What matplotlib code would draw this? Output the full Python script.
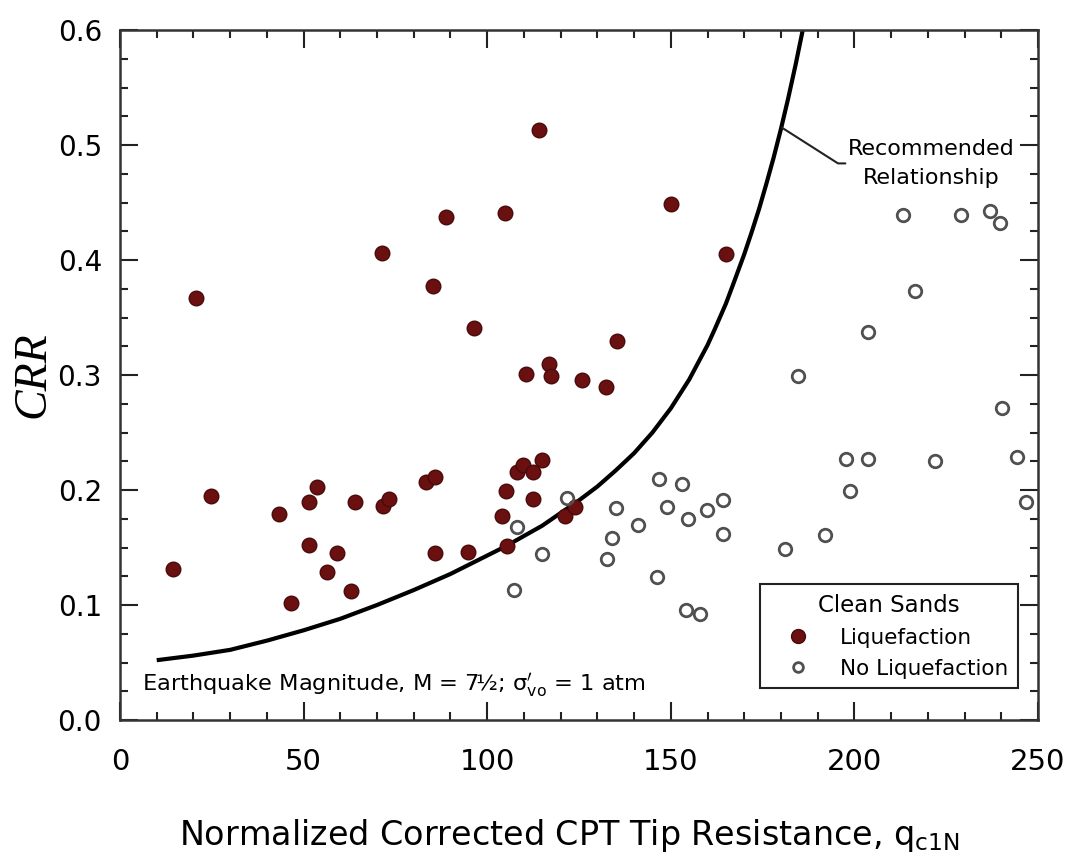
import matplotlib
matplotlib.use("Agg")
import matplotlib.pyplot as plt
from matplotlib.lines import Line2D
from matplotlib.ticker import MultipleLocator

plt.rcParams['font.family'] = ['DejaVu Sans']
plt.rcParams['mathtext.fontset'] = 'dejavusans'

# datos: qc1N y CRR
liq_q = [14.4, 20.7, 24.8, 43.4, 46.5, 51.6, 53.6, 51.6, 59.0, 56.3, 62.8, 64.0,
         71.3, 71.7, 73.3, 83.3, 85.3, 85.8, 85.8, 88.8, 94.9, 96.5, 103.9, 104.8,
         105.1, 105.5, 108.0, 109.8, 110.7, 112.4, 112.6, 114.1, 114.8, 116.9,
         117.3, 121.2, 123.9, 125.7, 132.4, 135.4, 150.0, 165.0]
liq_crr = [0.131, 0.367, 0.195, 0.179, 0.102, 0.190, 0.203, 0.152, 0.145, 0.129, 0.112, 0.190,
           0.406, 0.186, 0.192, 0.207, 0.377, 0.211, 0.145, 0.437, 0.146, 0.341, 0.177, 0.441,
           0.199, 0.151, 0.216, 0.222, 0.301, 0.192, 0.216, 0.513, 0.226, 0.310,
           0.299, 0.177, 0.185, 0.296, 0.290, 0.330, 0.449, 0.405]

noliq_q = [107.3, 108.0, 114.8, 121.6, 132.7, 133.9, 135.1, 141.2, 146.2, 146.9, 149.0,
           153.0, 154.1, 154.8, 158.0, 159.9, 164.1, 164.3, 181.1, 184.7, 192.0, 198.8,
           197.7, 203.6, 203.7, 213.3, 216.5, 221.9, 229.0, 236.9, 239.7, 240.1, 244.2, 246.7]
noliq_crr = [0.113, 0.168, 0.144, 0.193, 0.140, 0.158, 0.184, 0.170, 0.124, 0.210, 0.185,
             0.205, 0.096, 0.175, 0.092, 0.183, 0.191, 0.162, 0.149, 0.299, 0.161, 0.199,
             0.227, 0.337, 0.227, 0.439, 0.373, 0.225, 0.439, 0.443, 0.432, 0.271, 0.229, 0.190]

# curva recomendada
curva_q = [10, 20, 30, 40, 50, 60, 70, 80, 90, 100, 105, 110, 115, 120, 125, 130, 135,
           140, 145, 150, 155, 160, 162, 165, 167, 170, 172, 174, 176, 178, 180, 182,
           184, 186, 187]
curva_crr = [0.052, 0.056, 0.061, 0.069, 0.078, 0.088, 0.100, 0.113, 0.127, 0.143, 0.151,
             0.160, 0.169, 0.180, 0.191, 0.203, 0.217, 0.232, 0.250, 0.271, 0.296, 0.326,
             0.340, 0.362, 0.379, 0.405, 0.424, 0.444, 0.466, 0.489, 0.514, 0.541,
             0.570, 0.601, 0.618]

x_ticks = [0, 50, 100, 150, 200, 250]
y_ticks = [0.0, 0.1, 0.2, 0.3, 0.4, 0.5, 0.6]

fig = plt.figure(figsize=(10.65, 8.57), dpi=100)
ax = fig.add_axes([120 / 1065, 137 / 857, 918 / 1065, 690 / 857])

ax.plot(curva_q, curva_crr, color='black', linewidth=3, zorder=2,
        solid_joinstyle='round', solid_capstyle='butt')
ax.plot(liq_q, liq_crr, linestyle='none', marker='o', markersize=10.5,
        markerfacecolor='#6a1010', markeredgecolor='#4a0a0a', markeredgewidth=1, zorder=3)
ax.plot(noliq_q, noliq_crr, linestyle='none', marker='o', markersize=9,
        markerfacecolor='none', markeredgecolor='#505050', markeredgewidth=2, zorder=3)

ax.set_xlim(0, 250)
ax.set_ylim(0, 0.6)
ax.set_xticks(x_ticks)
ax.set_xticklabels([str(t) for t in x_ticks])
ax.set_yticks(y_ticks)
ax.set_yticklabels([f'{t:.1f}' for t in y_ticks])
ax.xaxis.set_minor_locator(MultipleLocator(10))
ax.yaxis.set_minor_locator(MultipleLocator(0.025))
ax.tick_params(which='both', direction='in', top=True, right=True, color='#222222', width=1.5)
ax.tick_params(which='major', length=13)
ax.tick_params(which='minor', length=6)
ax.tick_params(axis='x', which='major', labelsize=21, pad=20)
ax.tick_params(axis='y', which='major', labelsize=20, pad=13)
for s in ax.spines.values():
    s.set_linewidth(1.8)
    s.set_color('#333333')

ax.set_xlabel(r'Normalized Corrected CPT Tip Resistance, q$_{\mathrm{c1N}}$', fontsize=24)
ax.xaxis.set_label_coords(0.49, -0.14)
ax.set_ylabel('CRR', fontsize=33, family='Liberation Serif', style='italic')
ax.yaxis.set_label_coords(-0.071, 0.5)

ax.annotate('Recommended\nRelationship', xy=(180.3, 0.515), xytext=(221, 0.484),
            ha='center', va='center', fontsize=16, linespacing=1.55,
            arrowprops=dict(arrowstyle='-', color='#222222', lw=1.5, shrinkA=0, shrinkB=0,
                            connectionstyle='angle,angleA=0,angleB=-32.5,rad=0'))

ax.text(0.024, 0.05, r'Earthquake Magnitude, M = 7½; σ$^{\prime}_{\mathrm{vo}}$ = 1 atm',
        transform=ax.transAxes, fontsize=16.2, va='center', ha='left')

handles = [
    Line2D([], [], linestyle='none', marker='o', markersize=10, markerfacecolor='#6a1010',
           markeredgecolor='#4a0a0a', markeredgewidth=1, label='Liquefaction'),
    Line2D([], [], linestyle='none', marker='o', markersize=7, markerfacecolor='none',
           markeredgecolor='#505050', markeredgewidth=2, label='No Liquefaction'),
]
leg = ax.legend(handles=handles, title='Clean Sands', loc='lower right',
                bbox_to_anchor=(0.978, 0.046), borderaxespad=0, fontsize=15.5,
                title_fontsize=16.5, fancybox=False, framealpha=1, edgecolor='#222222',
                handletextpad=0.65, borderpad=0.45, labelspacing=0.5, handlelength=2.6)
leg.get_frame().set_linewidth(1.5)

fig.savefig('out.png', dpi=100)
